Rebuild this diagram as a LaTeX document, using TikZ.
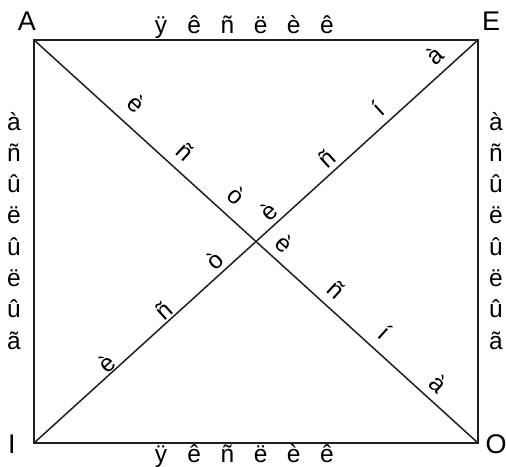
\documentclass[tikz,border=0pt]{standalone}
\usepackage{fontspec}
\setmainfont{Liberation Sans}
\begin{document}
\begin{tikzpicture}[x=1pt,y=-1pt]
\tikzset{
  lbl/.style={font=\fontsize{24.5}{28}\selectfont, inner sep=0pt},
  crn/.style={font=\fontsize{27}{31}\selectfont, inner sep=0pt, anchor=base},
  edge/.style={line width=1.5pt, draw=black!88},
  dn/.style={lbl, anchor=center, rotate=-42.2},
  up/.style={lbl, anchor=center, rotate=42.2},
}
\useasboundingbox (0,0) rectangle (506,466);
% corners
\coordinate (A) at (34,40);
\coordinate (E) at (478,40);
\coordinate (I) at (34,443);
\coordinate (O) at (478,443);
\draw[edge] (A) -- (E) -- (O) -- (I) -- cycle;
\draw[edge] (A) -- (O);
\draw[edge] (I) -- (E);
% corner labels
\node[crn] (la) at (27,30) {A};
\node[crn] (le) at (491,30) {E};
\node[crn] (li) at (12,453) {I};
\node[crn] (lo) at (496,453) {O};
% top and bottom
\foreach \ch [count=\k] in {ÿ,ê,ñ,ë,è,ê}{
  \pgfmathsetmacro{\xx}{161+33.2*(\k-1)}
  \node[lbl, anchor=base] (top\k) at (\xx,33) {\ch};
  \node[lbl, anchor=base] (bot\k) at (\xx,462) {\ch};
}
% sides
\foreach \ch [count=\k] in {à,ñ,û,ë,û,ë,û,ã}{
  \pgfmathsetmacro{\yy}{130+31.3*(\k-1)}
  \node[lbl, anchor=base] (lft\k) at (14,\yy) {\ch};
  \node[lbl, anchor=base] (rgt\k) at (496,\yy) {\ch};
}
% diagonal A--O
\node[dn] (ao1) at (136.7,103.3) {è};
\node[dn] (ao2) at (185,151.7) {ñ};
\node[dn] (ao3) at (236.7,195) {ò};
\node[dn] (ao4) at (285,243.3) {è};
\node[dn] (ao5) at (336.7,290) {ñ};
\node[dn] (ao6) at (385,331.7) {í};
\node[dn] (ao7) at (438.3,383.3) {à};
% diagonal I--E
\node[up] (ie1) at (106.7,363.3) {è};
\node[up] (ie2) at (163.3,310) {ñ};
\node[up] (ie3) at (215,260) {ò};
\node[up] (ie4) at (268.3,211.7) {è};
\node[up] (ie5) at (326.7,158.3) {ñ};
\node[up] (ie6) at (378.3,108.3) {í};
\node[up] (ie7) at (435,55) {à};
\end{tikzpicture}
\end{document}
